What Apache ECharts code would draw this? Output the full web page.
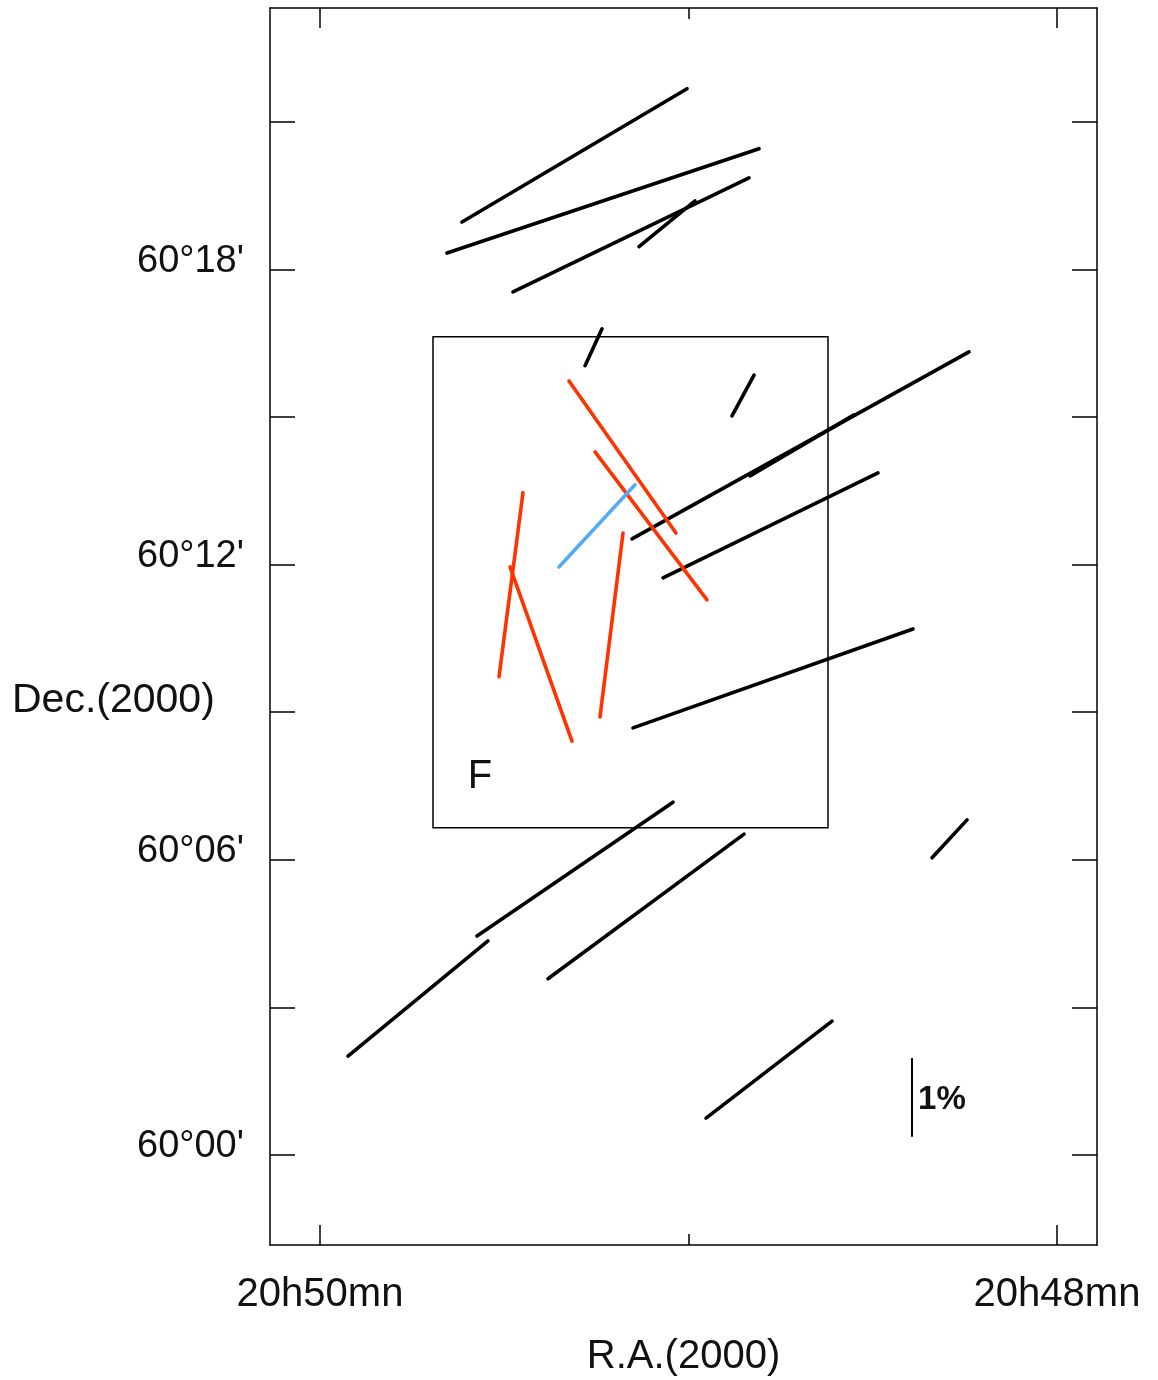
<!DOCTYPE html>
<html>
<head>
<meta charset="utf-8">
<script src="https://cdn.jsdelivr.net/npm/echarts@6/dist/echarts.min.js"></script>
<style>
  html, body { margin: 0; padding: 0; background: #fff; }
  #chart { width: 1158px; height: 1380px; }
</style>
</head>
<body>
<div id="chart"></div>
<script>
// x: R.A. in seconds of time past 20h48m00s, y: Dec. in arcmin past 60°00'
const raMajor = [0, 120]
const raMinor = [60]
const raLabels = { 0: '20h48mn', 120: '20h50mn' }
const decTicks = [0, 3, 6, 9, 12, 15, 18, 21]
const decLabels = { 0: "60°00'", 6: "60°06'", 12: "60°12'", 18: "60°18'" }

// polarization vectors: [ra1, dec1, ra2, dec2]
const blackVectors = [
  [96.88, 18.96, 60.24, 21.67],
  [99.32, 18.33, 48.52, 20.45],
  [88.58, 17.54, 50.15, 19.86],
  [68.06, 18.46, 58.94, 19.39],
  [76.85, 16.04, 74.08, 16.79],
  [52.92, 15.02, 49.33, 15.85],
  [69.20, 12.52, 14.33, 16.32],
  [49.99, 13.80, 33.05, 15.04],
  [64.15, 11.73, 29.15, 13.86],
  [69.04, 8.68, 23.45, 10.69],
  [94.44, 4.45, 62.52, 7.17],
  [115.44, 2.01, 92.65, 4.35],
  [82.88, 3.58, 50.96, 6.52],
  [57.15, 0.75, 36.63, 2.72],
  [20.35, 6.04, 14.65, 6.81]
]
const redVectors = [
  [79.46, 15.73, 62.04, 12.64],
  [75.22, 14.29, 56.99, 11.28],
  [86.95, 13.46, 90.85, 9.72],
  [89.06, 11.95, 78.97, 8.41],
  [70.66, 12.64, 74.41, 8.90]
]
const blueVectors = [
  [81.09, 11.95, 68.71, 13.62]
]

// field F box [ra1, dec1, ra2, dec2] and its label
const fieldBox = [[101.6, 16.63, 37.29, 6.65]]
const fieldLabel = [[93.95, 7.68, 'F']]

// 1% scale bar
const scaleBar = [[23.61, 0.37, 23.61, 1.97]]
const scaleLabel = [[22.63, 1.12, '1%']]

const FONT = 'Liberation Sans, Arial, sans-serif'

function segment(color) {
  return (params, api) => {
    const a = api.coord([api.value(0), api.value(1)])
    const b = api.coord([api.value(2), api.value(3)])
    return {
      type: 'line',
      shape: { x1: a[0], y1: a[1], x2: b[0], y2: b[1] },
      style: { stroke: color, lineWidth: 3.6, lineCap: 'round' },
    }
  }
}

function textAt(font, align) {
  return (params, api) => {
    const p = api.coord([api.value(0), api.value(1)])
    return {
      type: 'text',
      x: p[0],
      y: p[1],
      style: { text: api.value(2), font, fill: '#111', align, verticalAlign: 'middle' },
    }
  }
}

const xBase = { type: 'value', min: -6.51, max: 128.14, inverse: true, splitLine: { show: false } }
const yBase = { type: 'value', min: -1.83, max: 23.31, splitLine: { show: false } }
const lineStyle = { color: '#000', width: 1.5 }

const option = {
  animation: false,
  backgroundColor: '#fff',
  grid: { left: 270, right: 61, top: 8, bottom: 135, containLabel: false, outerBoundsMode: 'none' },
  xAxis: [
    {
      ...xBase,
      position: 'bottom',
      axisLine: { onZero: false, lineStyle },
      axisTick: { inside: true, length: 20, customValues: raMajor, lineStyle },
      axisLabel: {
        customValues: raMajor,
        formatter: v => raLabels[v] || '',
        margin: 30,
        fontFamily: FONT,
        fontSize: 40,
        color: '#111',
      },
      name: 'R.A.(2000)',
      nameLocation: 'middle',
      nameGap: 92,
      nameTextStyle: { fontFamily: FONT, fontSize: 40, color: '#111' },
    },
    {
      ...xBase,
      position: 'bottom',
      axisLine: { show: false, onZero: false },
      axisTick: { inside: true, length: 11, customValues: raMinor, lineStyle },
      axisLabel: { show: false },
    },
    {
      ...xBase,
      position: 'top',
      axisLine: { onZero: false, lineStyle },
      axisTick: { inside: true, length: 20, customValues: raMajor, lineStyle },
      axisLabel: { show: false },
    },
    {
      ...xBase,
      position: 'top',
      axisLine: { show: false, onZero: false },
      axisTick: { inside: true, length: 11, customValues: raMinor, lineStyle },
      axisLabel: { show: false },
    },
  ],
  yAxis: [
    {
      ...yBase,
      position: 'left',
      axisLine: { onZero: false, lineStyle },
      axisTick: { inside: true, length: 25, customValues: decTicks, lineStyle },
      axisLabel: {
        customValues: Object.keys(decLabels).map(Number),
        formatter: v => decLabels[v] || '',
        margin: 26,
        verticalAlign: 'bottom',
        lineHeight: 16,
        fontFamily: FONT,
        fontSize: 38,
        color: '#111',
      },
    },
    {
      ...yBase,
      position: 'right',
      axisLine: { onZero: false, lineStyle },
      axisTick: { inside: true, length: 25, customValues: decTicks, lineStyle },
      axisLabel: { show: false },
    },
  ],
  graphic: [
    {
      type: 'text',
      x: 12,
      y: 701,
      style: { text: 'Dec.(2000)', font: '41px ' + FONT, fill: '#111', verticalAlign: 'middle' },
    },
  ],
  series: [
    {
      type: 'custom',
      name: 'field',
      renderItem: (params, api) => {
        const a = api.coord([api.value(0), api.value(1)])
        const b = api.coord([api.value(2), api.value(3)])
        return {
          type: 'rect',
          shape: { x: a[0], y: a[1], width: b[0] - a[0], height: b[1] - a[1] },
          style: { fill: 'none', stroke: '#000', lineWidth: 1.5 },
        }
      },
      data: fieldBox,
    },
    { type: 'custom', name: 'fieldLabel', renderItem: textAt('40px ' + FONT, 'center'), data: fieldLabel },
    { type: 'custom', name: 'black', renderItem: segment('#000'), data: blackVectors },
    { type: 'custom', name: 'red', renderItem: segment('#ff3300'), data: redVectors },
    { type: 'custom', name: 'blue', renderItem: segment('#55aaf5'), data: blueVectors },
    {
      type: 'custom',
      name: 'scale',
      renderItem: (params, api) => {
        const a = api.coord([api.value(0), api.value(1)])
        const b = api.coord([api.value(2), api.value(3)])
        return {
          type: 'line',
          shape: { x1: a[0], y1: a[1], x2: b[0], y2: b[1] },
          style: { stroke: '#000', lineWidth: 2 },
        }
      },
      data: scaleBar,
    },
    { type: 'custom', name: 'scaleLabel', renderItem: textAt('bold 33px ' + FONT, 'left'), data: scaleLabel },
  ],
}

const myChart = echarts.init(document.getElementById('chart'), null, { renderer: 'canvas' })
myChart.setOption(option)
</script>
</body>
</html>
